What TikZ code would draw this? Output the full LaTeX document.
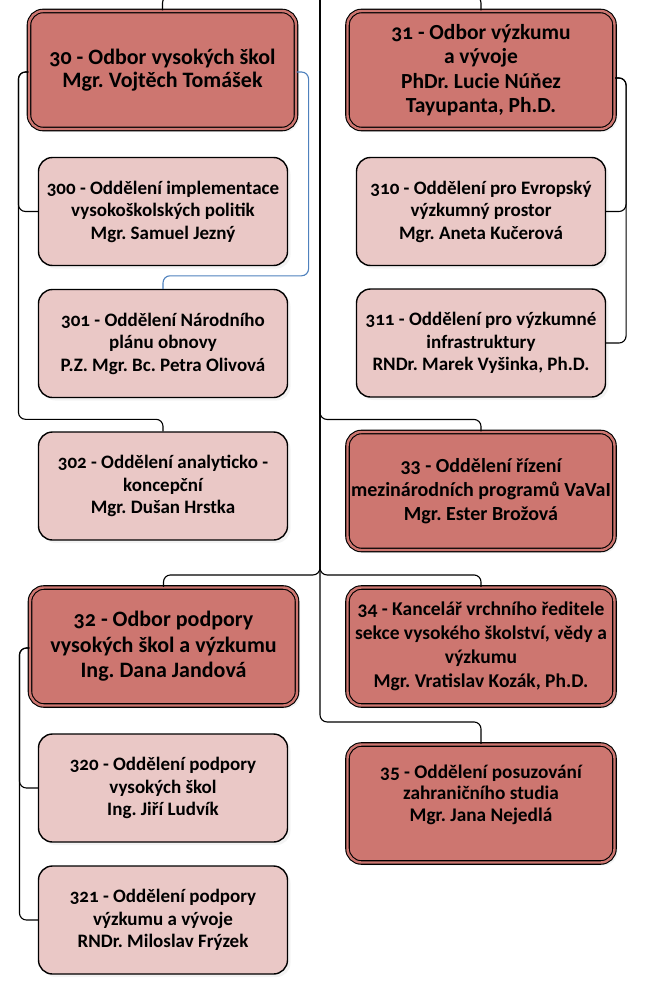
\documentclass[tikz,border=0pt]{standalone}
\usepackage{fontspec}
\setmainfont{Carlito}[Numbers=OldStyle]
\frenchspacing
\usetikzlibrary{shadows}
\definecolor{unitred}{RGB}{205,118,112}
\definecolor{deptpink}{RGB}{234,200,198}
\definecolor{linkblue}{RGB}{79,129,189}
\tikzset{
  unit/.style={draw=black, line width=1.1pt, double=unitred, double distance=2.4pt,
    fill=unitred, rounded corners=14pt, align=center,
    minimum width=267pt, minimum height=118pt,
    font=\bfseries\fontsize{22}{24}\selectfont,
    drop shadow={shadow xshift=3pt, shadow yshift=-3pt, fill=black!9}},
  dept/.style={draw=black, line width=1.4pt, fill=deptpink, rounded corners=14pt,
    align=center, minimum width=249pt, minimum height=108pt,
    font=\bfseries\fontsize{19}{22.5}\selectfont,
    drop shadow={shadow xshift=3pt, shadow yshift=-3pt, fill=black!9}},
  link/.style={draw=black, line width=1.1pt, rounded corners=7pt},
}
\begin{document}
\begin{tikzpicture}[x=1pt,y=-1pt]
            \useasboundingbox (0,0) rectangle (651,985);
            \coordinate (top) at (320,-30);

            \node[unit,font=\bfseries\fontsize{22}{23}\selectfont] (b30) at (162.5,70) {30 - Odbor vysokých škol\\Mgr. Vojtěch Tomášek};
            \node[dept] (b300) at (163,211.5) {300 - Oddělení implementace\\vysokoškolských politik\\Mgr. Samuel Jezný};
            \node[dept] (b301) at (163,343.5) {301 - Oddělení Národního\\plánu obnovy\\P.Z. Mgr. Bc. Petra Olivová};
            \node[dept] (b302) at (163,486) {302 - Oddělení analyticko -\\koncepční\\Mgr. Dušan Hrstka};

            \node[unit,font=\bfseries\fontsize{21.5}{24.5}\selectfont] (b31) at (481,70) {31 - Odbor výzkumu\\a vývoje\\PhDr. Lucie Núňez\\Tayupanta, Ph.D.};
            \node[dept] (b310) at (481,211.5) {310 - Oddělení pro Evropský\\výzkumný prostor\\Mgr. Aneta Kučerová};
            \node[dept] (b311) at (481,343) {311 - Oddělení pro výzkumné\\infrastruktury\\RNDr. Marek Vyšinka, Ph.D.};
            \node[unit,font=\bfseries\fontsize{20}{24}\selectfont] (b33) at (481,491) {33 - Oddělení řízení\\mezinárodních programů VaVaI\\Mgr. Ester Brožová};

            \node[unit,font=\bfseries\fontsize{22}{25.5}\selectfont] (b32) at (163.5,646.5) {32 - Odbor podpory\\vysokých škol a výzkumu\\Ing. Dana Jandová};
            \node[dept] (b320) at (163,788) {320 - Oddělení podpory\\vysokých škol\\Ing. Jiří Ludvík};
            \node[dept] (b321) at (163,920) {321 - Oddělení podpory\\výzkumu a vývoje\\RNDr. Miloslav Frýzek};

            \node[unit,font=\bfseries\fontsize{19.5}{24}\selectfont] (b34) at (481,646.5) {34 - Kancelář vrchního ředitele\\sekce vysokého školství, vědy a\\výzkumu\\Mgr. Vratislav Kozák, Ph.D.};
            \node[unit,font=\bfseries\fontsize{19.3}{21.5}\selectfont] (b35) at (481,803.5) {35 - Oddělení posuzování\\zahraničního studia\\Mgr. Jana Nejedlá\\\mbox{}};

            % trunk
            \draw[link] (top) -- ++(0,26) -| (b30.north);
            \draw[link] (top) -- ++(0,26) -| (b31.north);
            \draw[link] (top) |- ([yshift=12pt]b33.north) -- (b33.north);
            \draw[link] (top) |- ([yshift=12pt]b32.north) -- (b32.north);
            \draw[link] (top) |- ([yshift=12pt]b34.north) -- (b34.north);
            \draw[link] (top) |- ([yshift=22pt]b35.north) -- (b35.north);

            % 30
            \draw[link] ([yshift=-2pt]b30.west) -- ++(-10,0) |- (b300.west);
            \draw[link] ([yshift=-2pt]b30.west) -- ++(-10,0) |- ([yshift=12pt]b302.north) -- (b302.north);
            \draw[link,draw=linkblue] ([yshift=-2pt]b30.east) -- ++(12,0) |- ([yshift=13pt]b301.north) -- (b301.north);

            % 31
            \draw[link] ([yshift=-8pt]b31.east) -- ++(11,0) |- (b310.east);
            \draw[link] ([yshift=-8pt]b31.east) -- ++(11,0) |- (b311.east);

            % 32
            \draw[link] ([yshift=-1.5pt]b32.west) -- ++(-10,0) |- (b320.west);
            \draw[link] ([yshift=-1.5pt]b32.west) -- ++(-10,0) |- (b321.west);
        \end{tikzpicture}
\end{document}
